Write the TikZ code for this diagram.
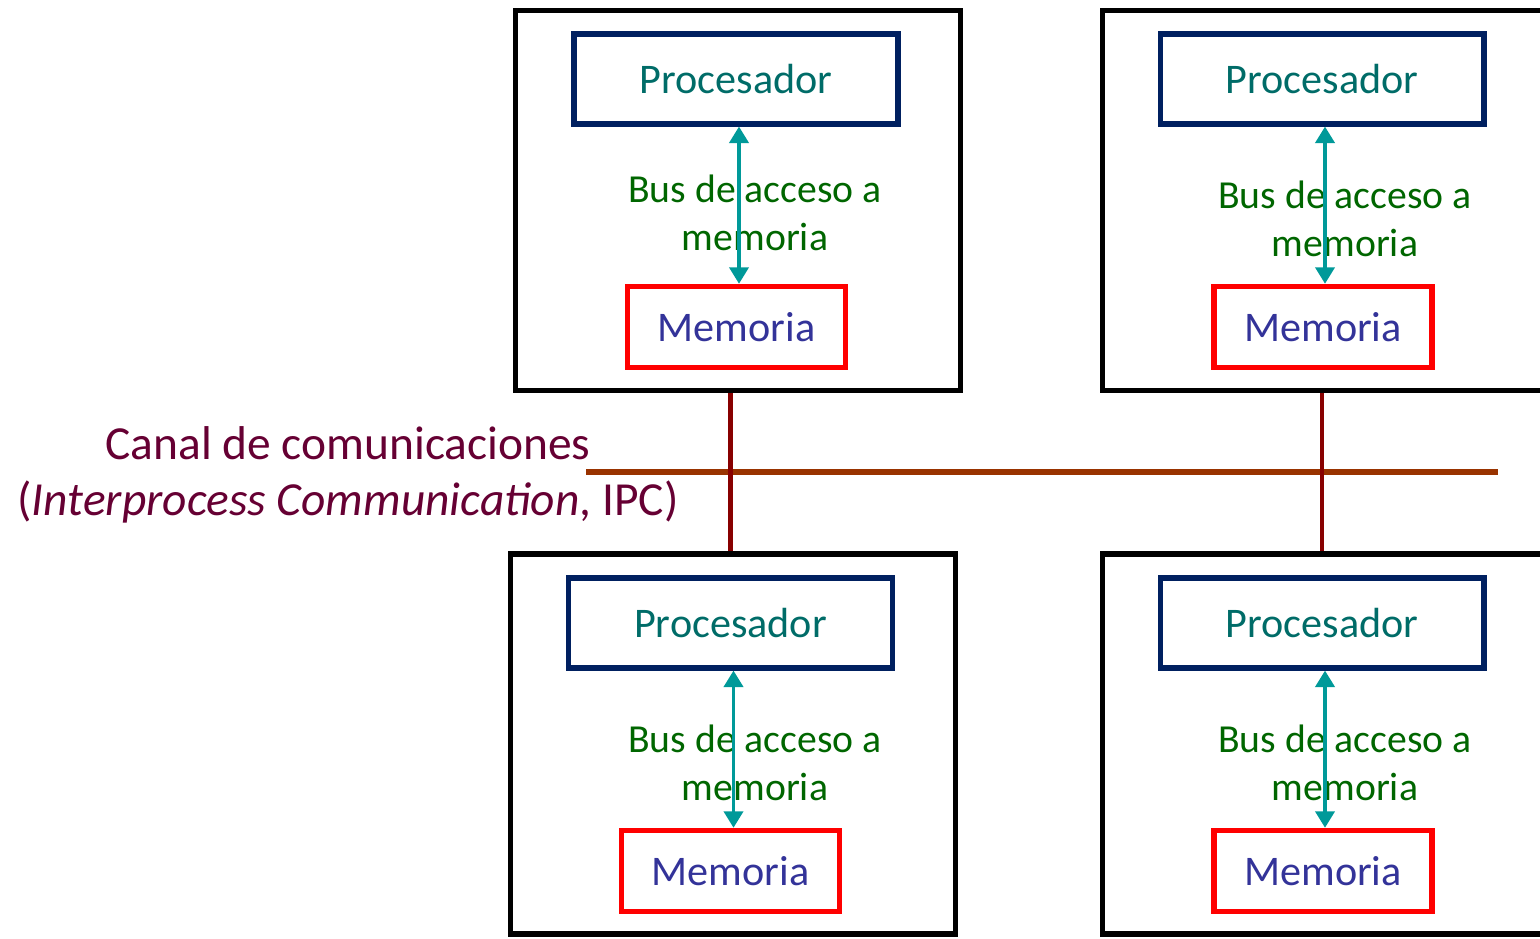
\documentclass[tikz,border=0pt]{standalone}
\usepackage{fontspec}
\setmainfont{Carlito}
\usepackage{xcolor}
\usepackage{tikz}
\usetikzlibrary{arrows.meta,positioning}
\definecolor{procborde}{RGB}{0,32,96}
\definecolor{proctexto}{RGB}{0,108,104}
\definecolor{memtexto}{RGB}{51,51,153}
\definecolor{bustexto}{RGB}{0,102,0}
\definecolor{buslinea}{RGB}{0,153,153}
\definecolor{canaltexto}{RGB}{102,0,51}
\definecolor{canallinea}{RGB}{153,51,0}
\definecolor{enlacelinea}{RGB}{136,0,0}

\tikzset{
    caja/.style={draw=black, line width=3.1pt, minimum width=8.9cm, minimum height=7.6cm, inner sep=0pt},
    procesador/.style={draw=procborde, line width=2.9pt, minimum width=6.48cm, minimum height=1.8cm, inner sep=0pt,
        text=proctexto, font=\fontsize{24pt}{28pt}\selectfont},
    memoria/.style={draw=red, line width=3.1pt, minimum width=4.36cm, minimum height=1.62cm, inner sep=0pt,
        text=memtexto, font=\fontsize{24pt}{28pt}\selectfont},
    busnota/.style={align=center, inner sep=0pt, anchor=base, text=bustexto, font=\fontsize{22.6pt}{27.2pt}\selectfont},
    bus/.style={draw=buslinea, line width=2.2pt, {Triangle[width=0.38cm,length=0.33cm]}-{Triangle[width=0.38cm,length=0.33cm]}},
    canal/.style={draw=canallinea, line width=3pt},
    enlace/.style={draw=enlacelinea, line width=2.5pt}
}

\begin{document}
\begin{tikzpicture}[x=0.02cm, y=-0.02cm]
    \useasboundingbox (0,0) rectangle (1540,938);
    \clip (0,0) rectangle (1540,938);

    % Nodos de arriba
    \node[caja] (box1) at (738,200.5) {};
    \node[procesador] (proc1) at (736,79) {Procesador};
    \node[memoria] (mem1) at (736.5,327) {Memoria};
    \node[busnota] (bus1) at (755,250) {Bus de acceso a\\memoria};

    \node[caja] (box2) at (1325,200.5) {};
    \node[procesador] (proc2) at (1322,79) {Procesador};
    \node[memoria] (mem2) at (1323,327) {Memoria};
    \node[busnota] (bus2) at (1345,256) {Bus de acceso a\\memoria};

    % Nodos de abajo
    \node[caja] (box3) at (733,744) {};
    \node[procesador] (proc3) at (730.5,623) {Procesador};
    \node[memoria] (mem3) at (730.5,871) {Memoria};
    \node[busnota] (bus3) at (755,800) {Bus de acceso a\\memoria};

    \node[caja] (box4) at (1325,744) {};
    \node[procesador] (proc4) at (1322,623) {Procesador};
    \node[memoria] (mem4) at (1323,871) {Memoria};
    \node[busnota] (bus4) at (1345,800) {Bus de acceso a\\memoria};

    % Buses procesador - memoria
    \draw[bus] ([xshift=0.06cm]proc1.south) -- ([xshift=0.06cm]proc1.south |- mem1.north);
    \draw[bus] ([xshift=0.06cm]proc2.south) -- ([xshift=0.06cm]proc2.south |- mem2.north);
    \draw[bus] ([xshift=0.06cm]proc3.south) -- ([xshift=0.06cm]proc3.south |- mem3.north);
    \draw[bus] ([xshift=0.06cm]proc4.south) -- ([xshift=0.06cm]proc4.south |- mem4.north);

    % Canal de comunicaciones
    \node[align=center, inner sep=0pt, anchor=base, text=canaltexto,
        font=\fontsize{27pt}{31.8pt}\selectfont] (canaltxt) at (348,515)
        {Canal de comunicaciones\\(\textit{Interprocess Communication}, IPC)};
    \coordinate (canalA) at (586,472);
    \coordinate (canalB) at (1498,472);
    \draw[canal] (canalA) -- (canalB);
    \draw[enlace] (box1.south -| proc3) -- (box3.north -| proc3);
    \draw[enlace] (box2.south -| proc4) -- (box4.north -| proc4);
\end{tikzpicture}
\end{document}
